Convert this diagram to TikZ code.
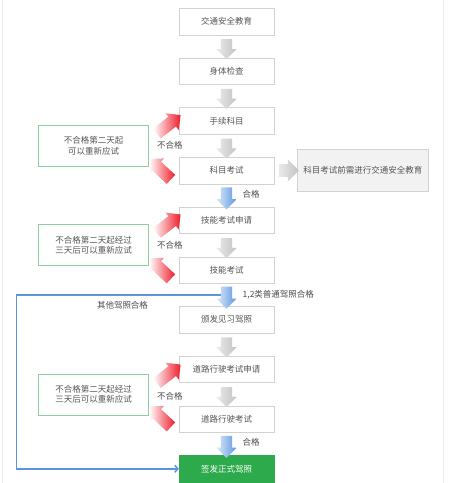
\documentclass[tikz,border=0pt]{standalone}
\usepackage{fontspec}
\setmainfont{Noto Sans CJK SC}
\usetikzlibrary{arrows.meta,positioning,shapes.arrows,calc,backgrounds}

\definecolor{boxline}{HTML}{D2D2D2}
\definecolor{txt}{HTML}{555555}
\definecolor{okgreen}{HTML}{2DAA4B}
\definecolor{lightgreen}{HTML}{8CCFA0}
\definecolor{lineblue}{HTML}{5B95E0}
\definecolor{arrred}{HTML}{EE1C2A}

\begin{document}
\begin{tikzpicture}[
  x=1pt, y=-1pt,
  node distance=22.8pt and 23pt,
  font=\fontsize{8.5}{10.5}\selectfont,
  box/.style={draw=boxline, fill=white, align=center, minimum height=26.5pt, minimum width=95pt, text=txt},
  note/.style={draw=lightgreen, fill=white, align=center, minimum height=41pt, minimum width=110pt, text=txt},
  info/.style={draw=boxline, fill=black!5, align=center, minimum height=42pt, minimum width=131pt, text=txt},
  done/.style={box, draw=okgreen, fill=okgreen, text=white},
  lbl/.style={text=black!70, inner sep=1pt},
  fat/.style={single arrow, draw=none, inner xsep=0pt, inner ysep=5.5pt, minimum width=20pt, single arrow head extend=4.5pt, minimum height=20pt},
  grayarr/.style={fat, left color=black!8, right color=black!24},
  bluearr/.style={fat, left color=lineblue!20, right color=lineblue, minimum height=22pt},
  redarr/.style={fat, inner ysep=6pt, left color=white, right color=arrred, minimum height=30pt, minimum width=21pt},
  blueline/.style={draw=lineblue, line width=1.5pt, -{Straight Barb[length=3pt,width=7pt]}}
]
\useasboundingbox (0,0) rectangle (464,483);

% main column
\node[box] (edu) at (226.5,21.5) {交通安全教育};
\node[box, below=of edu] (body) {身体检查};
\node[box, below=of body] (proc) {手续科目};
\node[box, below=of proc] (theory) {科目考试};
\node[box, below=of theory] (skillreq) {技能考试申请};
\node[box, below=of skillreq] (skill) {技能考试};
\node[box, below=of skill] (learner) {颁发见习驾照};
\node[box, below=of learner] (roadreq) {道路行驶考试申请};
\node[box, below=of roadreq] (road) {道路行驶考试};
\node[done, below=of road] (license) {签发正式驾照};
\node[info, right=of theory] (pre) {科目考试前需进行交通安全教育};

% retry notes
\node[note, anchor=east] (retry1) at ($(proc.south west)!.5!(theory.north west)+(-30,0)$) {不合格第二天起\\可以重新应试};
\node[note, anchor=east] (retry2) at ($(skillreq.south west)!.5!(skill.north west)+(-30,0)$) {不合格第二天起经过\\三天后可以重新应试};
\node[note, anchor=east] (retry3) at ($(roadreq.south west)!.5!(road.north west)+(-30,0)$) {不合格第二天起经过\\三天后可以重新应试};
\node[lbl] (fail1) at ($(proc.south west)!.5!(theory.north west)+(-9,0)$) {不合格};
\node[lbl] (fail2) at ($(skillreq.south west)!.5!(skill.north west)+(-9,0)$) {不合格};
\node[lbl] (fail3) at ($(roadreq.south west)!.5!(road.north west)+(-9,2)$) {不合格};

% block arrows
\node[grayarr, rotate=-90] (a1) at ($(edu)!.5!(body)$) {};
\node[grayarr, rotate=-90] (a2) at ($(body)!.5!(proc)$) {};
\node[grayarr, rotate=-90] (a3) at ($(proc)!.5!(theory)$) {};
\node[grayarr, minimum width=22pt, inner ysep=6pt] (a4) at ($(theory.east)!.5!(pre.west)$) {};
\node[bluearr, rotate=-90] (b1) at ($(theory)!.5!(skillreq)$) {};
\node[grayarr, rotate=-90] (a5) at ($(skillreq)!.5!(skill)$) {};
\node[bluearr, rotate=-90] (b2) at ($(skill)!.5!(learner)$) {};
\node[grayarr, rotate=-90] (a6) at ($(learner)!.5!(roadreq)$) {};
\node[grayarr, rotate=-90] (a7) at ($(roadreq)!.5!(road)$) {};
\node[bluearr, rotate=-90] (b3) at ($(road)!.5!(license)$) {};

\node[redarr, rotate=38, anchor=tip] (r1) at ($(proc.west)+(2,-6)$) {};
\node[redarr, rotate=137, anchor=tip] (r2) at ($(retry1.east)+(0,13)$) {};
\node[redarr, rotate=38, anchor=tip] (r3) at ($(skillreq.west)+(2,-6)$) {};
\node[redarr, rotate=137, anchor=tip] (r4) at ($(retry2.east)+(0,13)$) {};
\node[redarr, rotate=38, anchor=tip] (r5) at ($(roadreq.west)+(2,-5)$) {};
\node[redarr, rotate=137, anchor=tip] (r6) at ($(retry3.east)+(0,12)$) {};

\node[lbl, anchor=west] (pass1) at ($(b1.center)+(15,-1)$) {合格};
\node[lbl, anchor=west] (pass12) at ($(b2.center)+(15,0)$) {1,2类普通驾照合格};
\node[lbl, anchor=west] (pass2) at ($(b3.center)+(15,-2)$) {合格};
\node[lbl] (other) at ($(b2.center)+(-104,10)$) {其他驾照合格};

\begin{scope}[on background layer]
  \fill[white] (0,0) rectangle (464,483);
  \draw[black!7] (2,0) -- (2,483);
  \draw[black!7] (443,0) -- (443,483);
  \draw[blueline] (b2.center) -- ++(-210,0) |- (license.west);
\end{scope}
\end{tikzpicture}
\end{document}
